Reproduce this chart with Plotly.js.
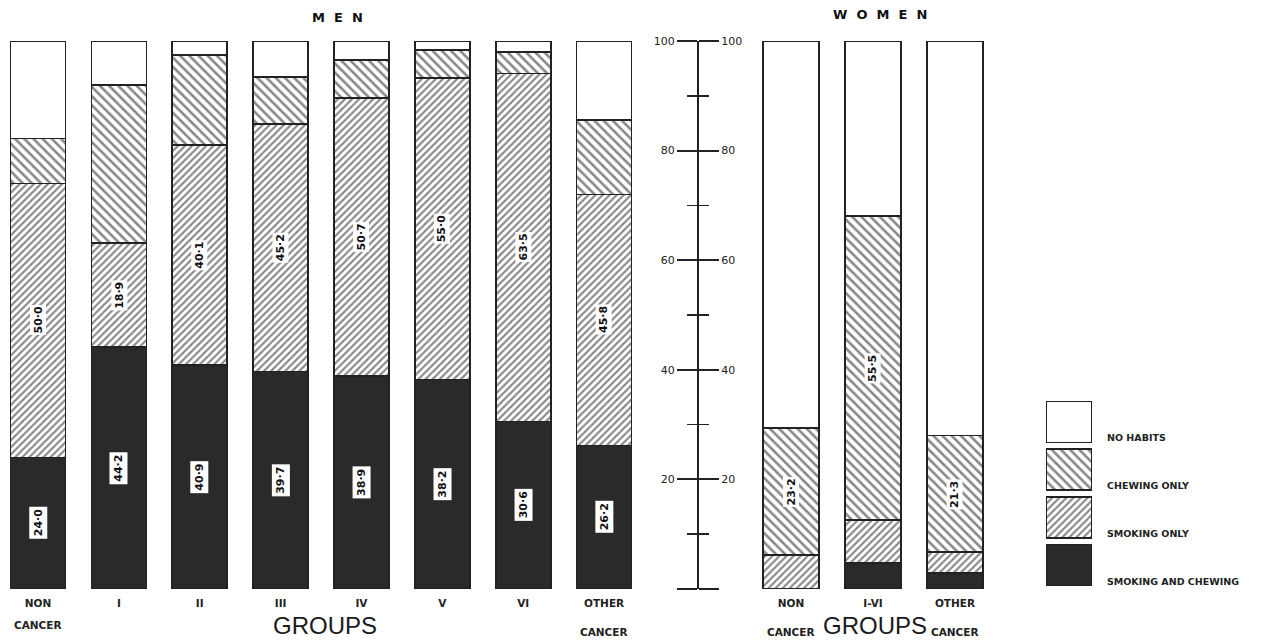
<!DOCTYPE html>
<html>
<head>
<meta charset="utf-8">
<script src="https://cdn.plot.ly/plotly-3.0.1.min.js"></script>
<style>html,body{margin:0;padding:0;background:#fff;}#chart{width:1270px;height:642px;}</style>
</head>
<body>
<div id="chart"></div>
<script>
// ---- data (percent) ----
const menGroups = ['NON CANCER','I','II','III','IV','V','VI','OTHER CANCER'];
const menTickText = ['NON','I','II','III','IV','V','VI','OTHER'];
const menSmokeChew = [24.0, 44.2, 40.9, 39.7, 38.9, 38.2, 30.6, 26.2];
const menSmoking   = [50.0, 18.9, 40.1, 45.2, 50.7, 55.0, 63.5, 45.8];
const menChewing   = [8.2, 28.9, 16.4, 8.5, 6.9, 5.2, 3.9, 13.6];
const menNone      = [17.8, 8.0, 2.6, 6.6, 3.5, 1.6, 2.0, 14.4];

const womenGroups = ['NON CANCER','I-VI','OTHER CANCER'];
const womenTickText = ['NON','I-VI','OTHER'];
const womenSmokeChew = [0.0, 4.7, 2.9];
const womenSmoking   = [6.2, 7.9, 3.8];
const womenChewing   = [23.2, 55.5, 21.3];
const womenNone      = [70.6, 31.9, 72.0];

const legendNames = ['NO HABITS','CHEWING ONLY','SMOKING ONLY','SMOKING AND CHEWING'];
const axisTicks = [0, 20, 40, 60, 80, 100];
const axisTickText = ['', '20', '40', '60', '80', '100'];

// ---- styles ----
const INK = '#222222';
const lineStyle = {color: INK, width: 1.6};
const styles = {
  'NO HABITS': {color: '#ffffff', line: lineStyle},
  'CHEWING ONLY': {color: '#ffffff', line: lineStyle,
     pattern: {shape: '\\', fgcolor: '#111111', bgcolor: '#ffffff', size: 6.5, solidity: 0.4, fillmode: 'overlay'}},
  'SMOKING ONLY': {color: '#ffffff', line: lineStyle,
     pattern: {shape: '/', fgcolor: '#111111', bgcolor: '#ffffff', size: 5, solidity: 0.42, fillmode: 'overlay'}},
  'SMOKING AND CHEWING': {color: '#2a2a2a', line: lineStyle}
};

const W = 1270, H = 642, T = 41, B = 53;
const px = x => x / W;
const py = y => (H - B - y) / (H - T - B);

function bar(name, x, y, xa) {
  return {type: 'bar', name: name, x: x, y: y, xaxis: xa, yaxis: 'y',
    marker: styles[name], width: 0.68, showlegend: false, hoverinfo: 'x+y+name'};
}

const traces = [
  bar('SMOKING AND CHEWING', menGroups, menSmokeChew, 'x'),
  bar('SMOKING ONLY', menGroups, menSmoking, 'x'),
  bar('CHEWING ONLY', menGroups, menChewing, 'x'),
  bar('NO HABITS', menGroups, menNone, 'x'),
  bar('SMOKING AND CHEWING', womenGroups, womenSmokeChew, 'x2'),
  bar('SMOKING ONLY', womenGroups, womenSmoking, 'x2'),
  bar('CHEWING ONLY', womenGroups, womenChewing, 'x2'),
  bar('NO HABITS', womenGroups, womenNone, 'x2'),
  // carriers for the central double-sided scale
  {type: 'scatter', x: [null], y: [null], xaxis: 'x', yaxis: 'y2', showlegend: false, hoverinfo: 'skip'},
  {type: 'scatter', x: [null], y: [null], xaxis: 'x', yaxis: 'y3', showlegend: false, hoverinfo: 'skip'}
];
// legend boxes
legendNames.forEach(n => {
  traces.push({type: 'bar', orientation: 'h', x: [1], y: [n], xaxis: 'x3', yaxis: 'y4',
    marker: styles[n], width: 0.86, showlegend: false, hoverinfo: 'skip'});
});

const labelFont = {family: 'DejaVu Sans', size: 11, color: '#111', weight: 'bold'};
const annotations = [];
function fmt(v) { return v.toFixed(1).replace('.', '\u00B7'); }
function note(o) { return Object.assign({showarrow: false, xanchor: 'center', yanchor: 'middle'}, o); }

// men values: smoking & chewing, smoking only
menGroups.forEach((g, i) => {
  annotations.push(note({xref: 'x', yref: 'y', x: g, y: menSmokeChew[i] / 2, text: fmt(menSmokeChew[i]),
    textangle: -90, font: labelFont, bgcolor: '#ffffff', borderpad: 2}));
  annotations.push(note({xref: 'x', yref: 'y', x: g, y: menSmokeChew[i] + menSmoking[i] / 2, text: fmt(menSmoking[i]),
    textangle: -90, font: labelFont, bgcolor: '#ffffff', borderpad: 1}));
});
// women values: chewing only
womenGroups.forEach((g, i) => {
  annotations.push(note({xref: 'x2', yref: 'y', x: g, y: womenSmokeChew[i] + womenSmoking[i] + womenChewing[i] / 2,
    text: fmt(womenChewing[i]), textangle: -90, font: labelFont, bgcolor: '#ffffff', borderpad: 1}));
});

const smallFont = {family: 'DejaVu Sans', size: 10.5, color: '#222', weight: 'bold'};
// second lines of category labels
annotations.push(note({xref: 'x', yref: 'paper', x: menGroups[0], y: py(625), text: 'CANCER', font: smallFont}));
annotations.push(note({xref: 'x', yref: 'paper', x: menGroups[7], y: py(632), text: 'CANCER', font: smallFont}));
annotations.push(note({xref: 'x2', yref: 'paper', x: womenGroups[0], y: py(632), text: 'CANCER', font: smallFont}));
annotations.push(note({xref: 'x2', yref: 'paper', x: womenGroups[2], y: py(632), text: 'CANCER', font: smallFont}));

// titles
const titleFont = {family: 'DejaVu Sans', size: 13, color: '#111', weight: 'bold'};
annotations.push(note({xref: 'paper', yref: 'paper', x: px(337), y: py(18), text: 'M  E  N', font: titleFont}));
annotations.push(note({xref: 'paper', yref: 'paper', x: px(880), y: py(15), text: 'W  O  M  E  N', font: titleFont}));
const groupsFont = {family: 'Liberation Sans', size: 24, color: '#1a1a1a'};
annotations.push(note({xref: 'paper', yref: 'paper', x: px(325), y: py(626), text: 'GROUPS', font: groupsFont}));
annotations.push(note({xref: 'paper', yref: 'paper', x: px(875), y: py(626), text: 'GROUPS', font: groupsFont}));

// legend labels
legendNames.forEach(n => {
  annotations.push(note({xref: 'paper', yref: 'y4', x: px(1105), y: n, yshift: -16, xanchor: 'left',
    text: n, font: {family: 'DejaVu Sans', size: 9.5, color: '#222', weight: 'bold'}}));
});

const tickFont = {family: 'DejaVu Sans', size: 11, color: '#222'};
const scaleAxis = side => ({
  overlaying: 'y', anchor: 'free', position: px(698), side: side, range: [0, 100], fixedrange: true,
  showline: true, linecolor: INK, linewidth: 2, showgrid: false, zeroline: false,
  ticks: 'outside', ticklen: 20, tickwidth: 2, tickcolor: INK,
  tickvals: axisTicks, ticktext: axisTickText, tickfont: tickFont,
  minor: {ticks: 'outside', tick0: 0, dtick: 10, ticklen: 10, tickwidth: 1.5, tickcolor: INK, showgrid: false}
});

const layout = {
  width: W, height: H,
  margin: {l: 0, r: 0, t: T, b: B},
  paper_bgcolor: '#ffffff', plot_bgcolor: 'rgba(0,0,0,0)',
  barmode: 'stack', showlegend: false,
  xaxis: {domain: [0, px(644.5)], type: 'category', categoryarray: menGroups, range: [-0.47, 7.5],
    tickvals: menGroups, ticktext: menTickText, ticks: '', showline: false, showgrid: false, zeroline: false,
    tickfont: smallFont, anchor: 'y', ticklabelstandoff: 6},
  xaxis2: {domain: [px(750), px(996)], type: 'category', categoryarray: womenGroups, range: [-0.5, 2.5],
    tickvals: womenGroups, ticktext: womenTickText, ticks: '', showline: false, showgrid: false, zeroline: false,
    tickfont: smallFont, anchor: 'y', ticklabelstandoff: 6},
  yaxis: {range: [0, 100], visible: false, fixedrange: true},
  yaxis2: scaleAxis('left'),
  yaxis3: scaleAxis('right'),
  xaxis3: {domain: [px(1046), px(1092)], range: [0, 1], visible: false, anchor: 'y4'},
  yaxis4: {domain: [0, py(398)], type: 'category', categoryarray: legendNames.slice().reverse(),
    range: [-0.5, 3.5], visible: false, anchor: 'x3'},
  annotations: annotations
};

Plotly.newPlot('chart', traces, layout, {displayModeBar: false, staticPlot: true});
</script>
</body>
</html>
